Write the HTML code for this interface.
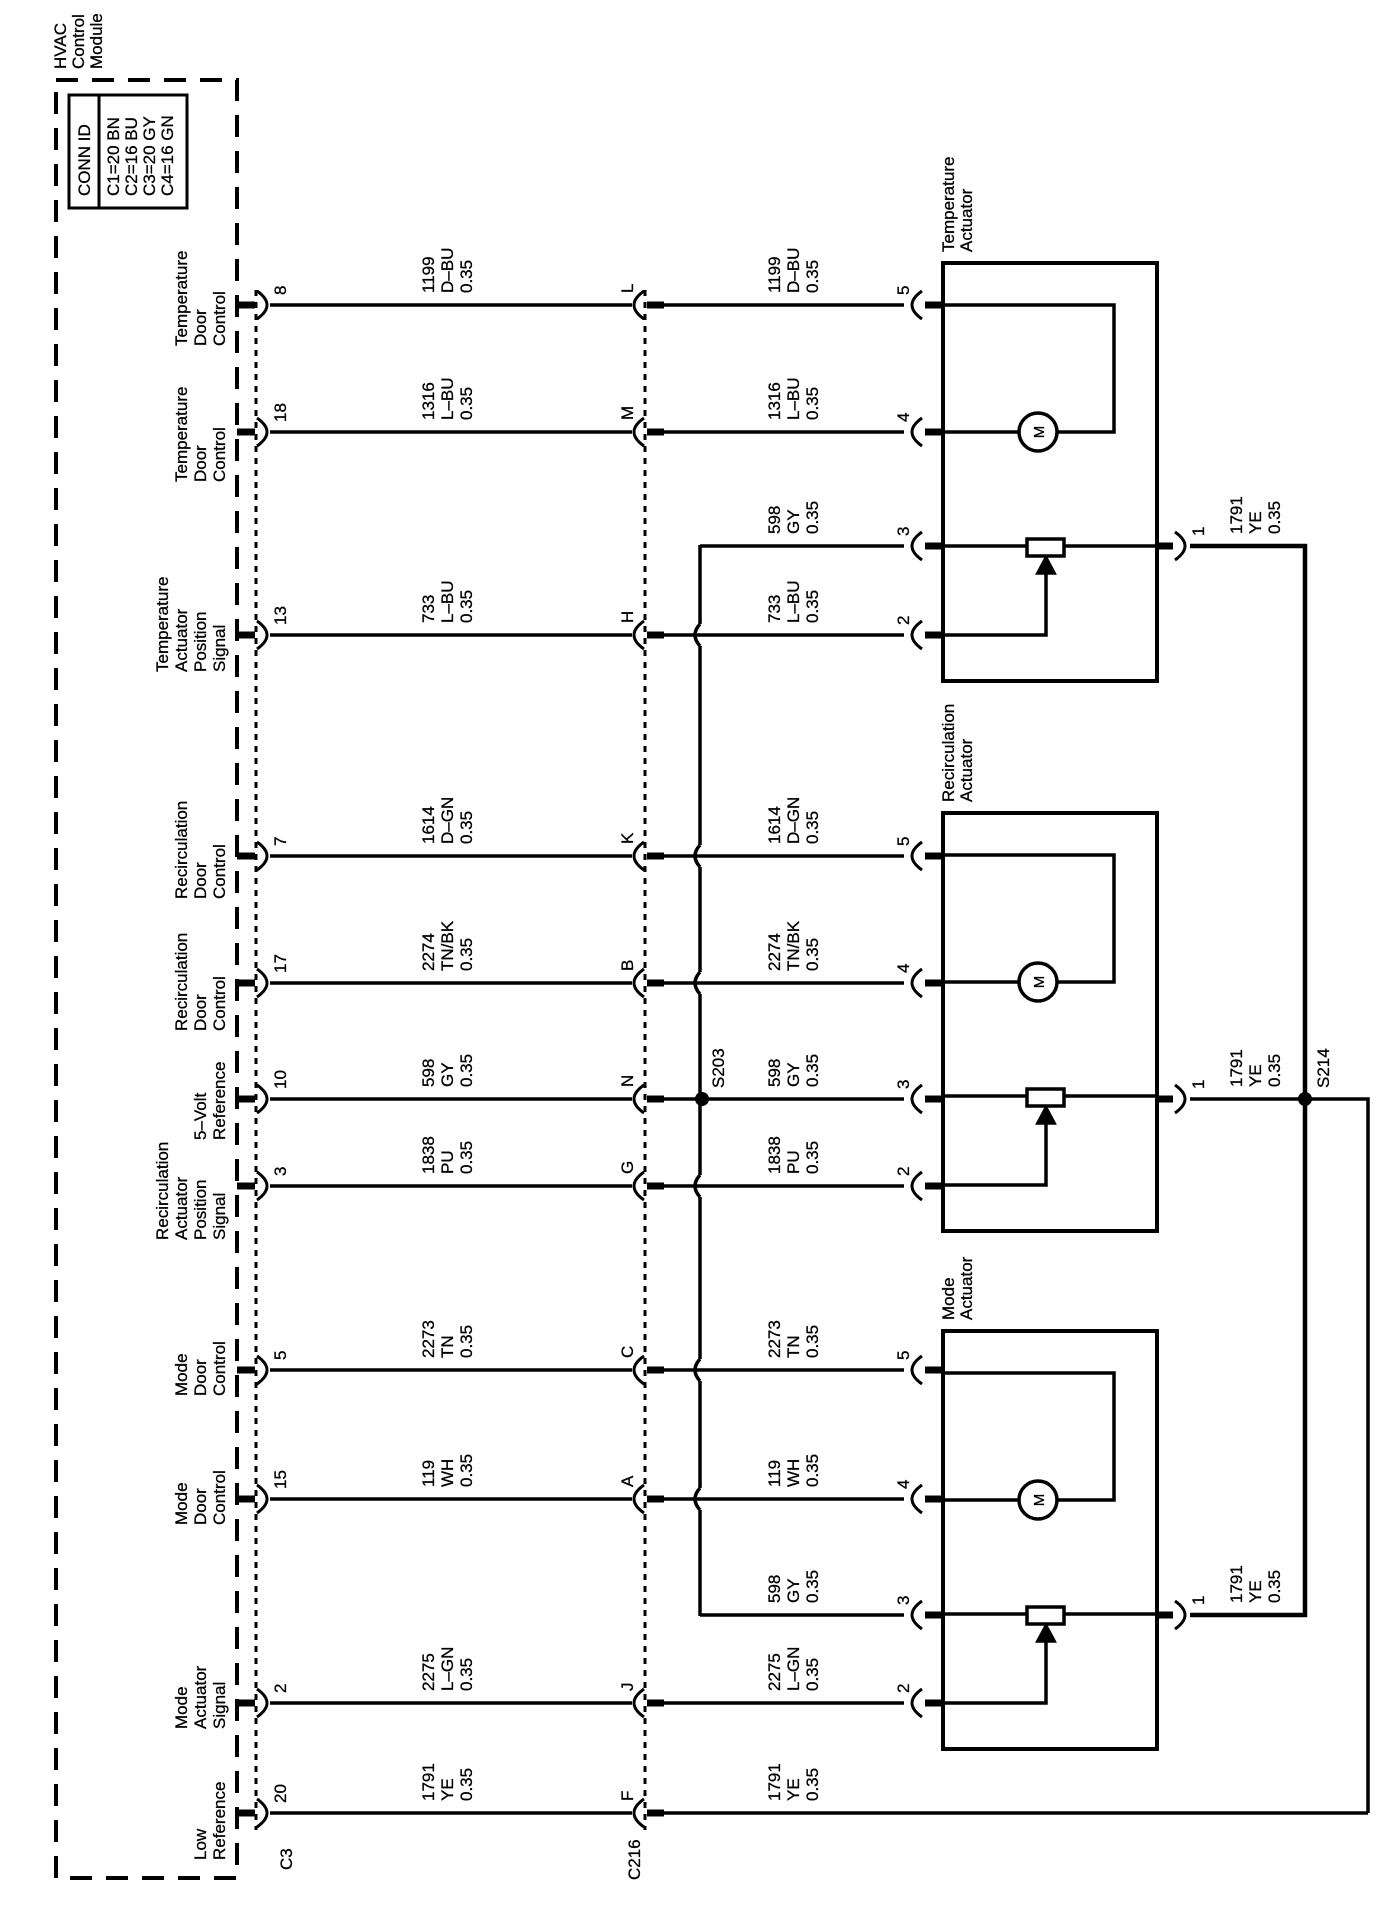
<!DOCTYPE html>
<html><head><meta charset="utf-8"><style>
html,body{margin:0;padding:0;background:#fff}
svg{display:block}
text{font-family:"Liberation Sans",sans-serif;font-size:17px;fill:#000;stroke:#000;stroke-width:0.3}
</style></head><body>
<svg width="1400" height="1913" viewBox="0 0 1400 1913" xmlns="http://www.w3.org/2000/svg">
<defs>
<g id="c3"><rect x="237" y="-3.5" width="18" height="7"/><path d="M257,-14 Q277,0 257,14" fill="none" stroke="#000" stroke-width="3"/></g>
<g id="c216"><path d="M644,-14 Q624,0 644,14" fill="none" stroke="#000" stroke-width="3"/><rect x="647" y="-3.5" width="17" height="7"/></g>
<g id="ap"><path d="M922,-14 Q902,0 922,14" fill="none" stroke="#000" stroke-width="3"/><rect x="925" y="-3.5" width="18" height="7"/></g>
<g id="p1"><rect x="1157" y="-3.5" width="16" height="7"/><path d="M1175,-14 Q1195,0 1175,14" fill="none" stroke="#000" stroke-width="3"/></g>
<path id="hop" d="M700,-11 Q690,0 700,11" fill="none" stroke="#000" stroke-width="3.5"/>
</defs>

<!-- HVAC module -->
<g transform="translate(0,69) rotate(-90)"><text x="0" y="66">HVAC</text><text x="0" y="84">Control</text><text x="0" y="102">Module</text></g>
<rect x="56" y="80" width="181" height="1798" fill="none" stroke="#000" stroke-width="4" stroke-dasharray="22,14"/>
<rect x="69" y="95" width="118" height="113" fill="none" stroke="#000" stroke-width="3"/>
<line x1="99" y1="95" x2="99" y2="208" stroke="#000" stroke-width="3"/>
<g transform="translate(0,196) rotate(-90)"><text x="0" y="90">CONN ID</text><text x="0" y="119">C1=20 BN</text><text x="0" y="137">C2=16 BU</text><text x="0" y="155">C3=20 GY</text><text x="0" y="173">C4=16 GN</text></g>

<!-- dotted connector lines -->
<line x1="256" y1="290" x2="256" y2="1830" stroke="#000" stroke-width="3" stroke-dasharray="6,6"/>
<line x1="645" y1="290" x2="645" y2="1830" stroke="#000" stroke-width="3" stroke-dasharray="6,6"/>

<g stroke="#000" stroke-width="3.5" fill="none">
<line x1="270" y1="305" x2="632" y2="305"/><line x1="270" y1="432" x2="632" y2="432"/>
<line x1="270" y1="635" x2="632" y2="635"/><line x1="270" y1="856" x2="632" y2="856"/>
<line x1="270" y1="983" x2="632" y2="983"/><line x1="270" y1="1099" x2="632" y2="1099"/>
<line x1="270" y1="1186" x2="632" y2="1186"/><line x1="270" y1="1370" x2="632" y2="1370"/>
<line x1="270" y1="1499" x2="632" y2="1499"/><line x1="270" y1="1703" x2="632" y2="1703"/>
<line x1="270" y1="1813" x2="632" y2="1813"/>
<line x1="664" y1="305" x2="904" y2="305"/><line x1="664" y1="432" x2="904" y2="432"/>
<line x1="664" y1="635" x2="904" y2="635"/><line x1="664" y1="856" x2="904" y2="856"/>
<line x1="664" y1="983" x2="904" y2="983"/><line x1="664" y1="1099" x2="904" y2="1099"/>
<line x1="664" y1="1186" x2="904" y2="1186"/><line x1="664" y1="1370" x2="904" y2="1370"/>
<line x1="664" y1="1499" x2="904" y2="1499"/><line x1="664" y1="1703" x2="904" y2="1703"/>
<line x1="664" y1="1813" x2="1368" y2="1813"/>
<line x1="700" y1="546" x2="904" y2="546"/><line x1="700" y1="1615" x2="904" y2="1615"/>
<path d="M700,545 V624 M700,646 V845 M700,867 V972 M700,994 V1175 M700,1197 V1359 M700,1381 V1488 M700,1510 V1616"/>
</g>
<use href="#hop" y="635"/><use href="#hop" y="856"/><use href="#hop" y="983"/><use href="#hop" y="1186"/><use href="#hop" y="1370"/><use href="#hop" y="1499"/>
<circle cx="702" cy="1099" r="7"/>

<g stroke="#000" fill="none">
<path d="M1190,546 H1305 V1615 H1190" stroke-width="4.5"/>
<line x1="1190" y1="1099" x2="1305" y2="1099" stroke-width="3.5"/>
<path d="M1305,1099 H1368 V1813" stroke-width="3.5"/>
</g>
<circle cx="1305" cy="1099" r="7"/>

<use href="#c3" y="305"/><use href="#c3" y="432"/><use href="#c3" y="635"/><use href="#c3" y="856"/><use href="#c3" y="983"/><use href="#c3" y="1099"/><use href="#c3" y="1186"/><use href="#c3" y="1370"/><use href="#c3" y="1499"/><use href="#c3" y="1703"/><use href="#c3" y="1813"/>
<use href="#c216" y="305"/><use href="#c216" y="432"/><use href="#c216" y="635"/><use href="#c216" y="856"/><use href="#c216" y="983"/><use href="#c216" y="1099"/><use href="#c216" y="1186"/><use href="#c216" y="1370"/><use href="#c216" y="1499"/><use href="#c216" y="1703"/><use href="#c216" y="1813"/>
<use href="#ap" y="305"/><use href="#ap" y="432"/><use href="#ap" y="546"/><use href="#ap" y="635"/>
<use href="#ap" y="856"/><use href="#ap" y="983"/><use href="#ap" y="1099"/><use href="#ap" y="1186"/>
<use href="#ap" y="1370"/><use href="#ap" y="1499"/><use href="#ap" y="1615"/><use href="#ap" y="1703"/>
<use href="#p1" y="546"/><use href="#p1" y="1099"/><use href="#p1" y="1615"/>

<g id="act" stroke="#000" stroke-width="3.5" fill="none">
<rect x="943" y="263" width="214" height="418" stroke-width="4"/>
<path d="M943,305 H1114 V432 H1057 M1019,432 H943"/>
<circle cx="1038" cy="432" r="19"/>
<path d="M943,546 H1027 M1064,546 H1157"/>
<rect x="1027" y="539" width="37" height="17"/>
<path d="M943,635 H1046 V570"/>
<path d="M1038,573 L1046,558 L1054,573 Z" fill="#000"/>
</g>
<use href="#act" y="550"/>
<use href="#act" y="1068"/>
<text transform="translate(1044,432) rotate(-90)" text-anchor="middle" style="font-size:15px">M</text>
<text transform="translate(1044,982) rotate(-90)" text-anchor="middle" style="font-size:15px">M</text>
<text transform="translate(1044,1500) rotate(-90)" text-anchor="middle" style="font-size:15px">M</text>

<g transform="translate(0,252) rotate(-90)"><text y="954">Temperature</text><text y="972">Actuator</text></g>
<g transform="translate(0,802) rotate(-90)"><text y="954">Recirculation</text><text y="972">Actuator</text></g>
<g transform="translate(0,1320) rotate(-90)"><text y="954">Mode</text><text y="972">Actuator</text></g>
<text transform="translate(724,1088) rotate(-90)">S203</text>
<text transform="translate(1329,1088) rotate(-90)">S214</text>
<text transform="translate(292,1870) rotate(-90)">C3</text>
<text transform="translate(640,1880) rotate(-90)">C216</text>

<g transform="translate(0,346) rotate(-90)"><text y="187">Temperature</text><text y="206">Door</text><text y="225">Control</text></g>
<g transform="translate(0,482) rotate(-90)"><text y="187">Temperature</text><text y="206">Door</text><text y="225">Control</text></g>
<g transform="translate(0,672) rotate(-90)"><text y="168">Temperature</text><text y="187">Actuator</text><text y="206">Position</text><text y="225">Signal</text></g>
<g transform="translate(0,899) rotate(-90)"><text y="187">Recirculation</text><text y="206">Door</text><text y="225">Control</text></g>
<g transform="translate(0,1031) rotate(-90)"><text y="187">Recirculation</text><text y="206">Door</text><text y="225">Control</text></g>
<g transform="translate(0,1140) rotate(-90)"><text y="206">5–Volt</text><text y="225">Reference</text></g>
<g transform="translate(0,1240) rotate(-90)"><text y="168">Recirculation</text><text y="187">Actuator</text><text y="206">Position</text><text y="225">Signal</text></g>
<g transform="translate(0,1396) rotate(-90)"><text y="187">Mode</text><text y="206">Door</text><text y="225">Control</text></g>
<g transform="translate(0,1525) rotate(-90)"><text y="187">Mode</text><text y="206">Door</text><text y="225">Control</text></g>
<g transform="translate(0,1729) rotate(-90)"><text y="187">Mode</text><text y="206">Actuator</text><text y="225">Signal</text></g>
<g transform="translate(0,1860) rotate(-90)"><text y="206">Low</text><text y="225">Reference</text></g>

<g transform="translate(286,0) rotate(-90)">
<text x="-295">8</text><text x="-422">18</text><text x="-625">13</text><text x="-846">7</text><text x="-973">17</text><text x="-1089">10</text><text x="-1176">3</text><text x="-1360">5</text><text x="-1489">15</text><text x="-1693">2</text><text x="-1803">20</text>
</g>
<g transform="translate(633,0) rotate(-90)">
<text x="-293">L</text><text x="-420">M</text><text x="-623">H</text><text x="-844">K</text><text x="-971">B</text><text x="-1087">N</text><text x="-1174">G</text><text x="-1358">C</text><text x="-1487">A</text><text x="-1691">J</text><text x="-1801">F</text>
</g>
<g transform="translate(909,0) rotate(-90)">
<text x="-295">5</text><text x="-422">4</text><text x="-536">3</text><text x="-625">2</text>
<text x="-846">5</text><text x="-973">4</text><text x="-1089">3</text><text x="-1176">2</text>
<text x="-1360">5</text><text x="-1489">4</text><text x="-1605">3</text><text x="-1693">2</text>
</g>
<g transform="translate(1204,0) rotate(-90)"><text x="-536">1</text><text x="-1089">1</text><text x="-1605">1</text></g>

<g transform="translate(0,0) rotate(-90)">
<g transform="translate(-293,434)"><text>1199</text><text y="19">D–BU</text><text y="38">0.35</text></g>
<g transform="translate(-420,434)"><text>1316</text><text y="19">L–BU</text><text y="38">0.35</text></g>
<g transform="translate(-623,434)"><text>733</text><text y="19">L–BU</text><text y="38">0.35</text></g>
<g transform="translate(-844,434)"><text>1614</text><text y="19">D–GN</text><text y="38">0.35</text></g>
<g transform="translate(-971,434)"><text>2274</text><text y="19">TN/BK</text><text y="38">0.35</text></g>
<g transform="translate(-1087,434)"><text>598</text><text y="19">GY</text><text y="38">0.35</text></g>
<g transform="translate(-1174,434)"><text>1838</text><text y="19">PU</text><text y="38">0.35</text></g>
<g transform="translate(-1358,434)"><text>2273</text><text y="19">TN</text><text y="38">0.35</text></g>
<g transform="translate(-1487,434)"><text>119</text><text y="19">WH</text><text y="38">0.35</text></g>
<g transform="translate(-1691,434)"><text>2275</text><text y="19">L–GN</text><text y="38">0.35</text></g>
<g transform="translate(-1801,434)"><text>1791</text><text y="19">YE</text><text y="38">0.35</text></g>
<g transform="translate(-293,780)"><text>1199</text><text y="19">D–BU</text><text y="38">0.35</text></g>
<g transform="translate(-420,780)"><text>1316</text><text y="19">L–BU</text><text y="38">0.35</text></g>
<g transform="translate(-534,780)"><text>598</text><text y="19">GY</text><text y="38">0.35</text></g>
<g transform="translate(-623,780)"><text>733</text><text y="19">L–BU</text><text y="38">0.35</text></g>
<g transform="translate(-844,780)"><text>1614</text><text y="19">D–GN</text><text y="38">0.35</text></g>
<g transform="translate(-971,780)"><text>2274</text><text y="19">TN/BK</text><text y="38">0.35</text></g>
<g transform="translate(-1087,780)"><text>598</text><text y="19">GY</text><text y="38">0.35</text></g>
<g transform="translate(-1174,780)"><text>1838</text><text y="19">PU</text><text y="38">0.35</text></g>
<g transform="translate(-1358,780)"><text>2273</text><text y="19">TN</text><text y="38">0.35</text></g>
<g transform="translate(-1487,780)"><text>119</text><text y="19">WH</text><text y="38">0.35</text></g>
<g transform="translate(-1603,780)"><text>598</text><text y="19">GY</text><text y="38">0.35</text></g>
<g transform="translate(-1691,780)"><text>2275</text><text y="19">L–GN</text><text y="38">0.35</text></g>
<g transform="translate(-1801,780)"><text>1791</text><text y="19">YE</text><text y="38">0.35</text></g>
<g transform="translate(-534,1242)"><text>1791</text><text y="19">YE</text><text y="38">0.35</text></g>
<g transform="translate(-1087,1242)"><text>1791</text><text y="19">YE</text><text y="38">0.35</text></g>
<g transform="translate(-1603,1242)"><text>1791</text><text y="19">YE</text><text y="38">0.35</text></g>
</g>
</svg>
</body></html>
